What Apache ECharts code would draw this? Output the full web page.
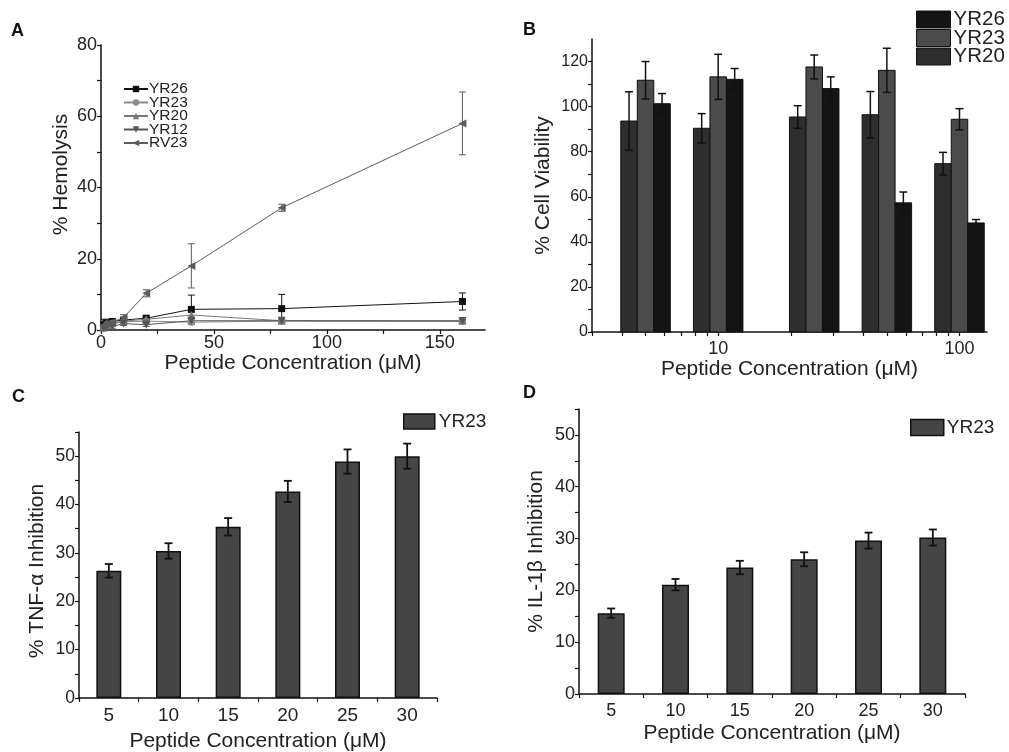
<!DOCTYPE html>
<html>
<head>
<meta charset="utf-8">
<script src="https://cdn.jsdelivr.net/npm/echarts@6/dist/echarts.min.js"></script>
<style>
  html, body { margin: 0; background: #fff; }
  #chart { width: 1009px; height: 752px; }
</style>
</head>
<body>
<div id="chart"></div>
<script>
// A: hemolysis
var hemoConc = [1.25, 2.5, 5, 10, 20, 40, 80, 160];
var hemoYR26 = [1.5, 2.0, 2.4, 2.8, 3.3, 5.8, 6.0, 8.0];
var hemoYR26Err = [1.5, 1.0, 0.8, 0.6, 0.8, 4.0, 4.0, 2.4];
var hemoYR23 = [0.8, 1.5, 1.8, 2.3, 2.5, 2.2, 2.5, 2.5];
var hemoYR23Err = [0.8, 0.6, 0.5, 0.5, 0.5, 0.6, 0.4, 0.4];
var hemoYR20 = [1.0, 1.8, 2.0, 2.5, 3.0, 4.2, 2.6, 2.6];
var hemoYR20Err = [0.8, 0.6, 0.5, 0.5, 0.5, 0.8, 0.4, 0.4];
var hemoYR12 = [0.5, 0.8, 1.0, 1.8, 1.5, 2.6, 2.6, 2.5];
var hemoYR12Err = [0.5, 0.5, 0.5, 0.5, 0.5, 0.5, 0.4, 0.4];
var hemoRV23 = [1.2, 1.8, 2.2, 3.5, 10.3, 18.0, 34.3, 58.0];
var hemoRV23Err = [1.5, 1.0, 0.8, 0.8, 1.0, 6.2, 1.0, 8.8];

// B: cell viability (log concentration)
var viabConc = [5, 10, 25, 50, 100];
var viabYR26 = [93.6, 90.4, 95.4, 96.4, 74.7];
var viabYR26Err = [13.0, 6.5, 5.0, 10.3, 5.0];
var viabYR23 = [111.7, 113.2, 117.6, 116.1, 94.4];
var viabYR23Err = [8.3, 10.0, 5.3, 9.8, 4.7];
var viabYR20 = [101.3, 112.1, 108.0, 57.3, 48.4];
var viabYR20Err = [4.5, 4.8, 5.2, 4.8, 1.5];

// C, D: cytokine inhibition
var cytoConc = ['5', '10', '15', '20', '25', '30'];
var tnfYR23 = [26.3, 30.4, 35.4, 42.7, 48.9, 50.0];
var tnfYR23Err = [1.4, 1.6, 1.8, 2.2, 2.5, 2.6];
var il1bYR23 = [15.6, 21.1, 24.4, 26.0, 29.6, 30.2];
var il1bYR23Err = [0.9, 1.1, 1.3, 1.35, 1.55, 1.55];

var FONT = 'Liberation Sans, Arial, sans-serif';
var TXT = '#222';

function zip3(xs, ys, es) {
  return xs.map(function (x, i) { return [x, ys[i], es[i]]; });
}
function catZip(ys, es) {
  return ys.map(function (y, i) { return [i, y, es[i]]; });
}
function stripPanel(name) { return name.split(':')[1]; }

// error bars drawn through the axis scales
function errorBars(offsetPx, capPx, color, lw) {
  return function (params, api) {
    var x = api.value(0), y = api.value(1), e = api.value(2);
    var hi = api.coord([x, y + e]), lo = api.coord([x, y - e]);
    var cx = hi[0] + offsetPx;
    var st = { stroke: color, lineWidth: lw };
    return {
      type: 'group',
      children: [
        { type: 'line', shape: { x1: cx, y1: hi[1], x2: cx, y2: lo[1] }, style: st },
        { type: 'line', shape: { x1: cx - capPx, y1: hi[1], x2: cx + capPx, y2: hi[1] }, style: st },
        { type: 'line', shape: { x1: cx - capPx, y1: lo[1], x2: cx + capPx, y2: lo[1] }, style: st }
      ]
    };
  };
}

// grouped bars on the log axis
function viabBar(offsetPx, widthPx) {
  return function (params, api) {
    var x = api.value(0), y = api.value(1);
    var t = api.coord([x, y]), b = api.coord([x, 0]);
    return {
      type: 'rect',
      shape: { x: t[0] + offsetPx - widthPx / 2, y: t[1], width: widthPx, height: b[1] - t[1] },
      style: { fill: api.visual('color'), stroke: '#111', lineWidth: 1 }
    };
  };
}

var axisLine = { show: true, lineStyle: { color: '#111', width: 1.5 } };
var axisTick = { show: true, length: 4, lineStyle: { color: '#111', width: 1.2 } };
function lbl(size, margin) { return { color: TXT, fontSize: size, fontFamily: FONT, margin: margin }; }
function nameStyle(pad) { return { color: TXT, fontSize: 21, fontFamily: FONT, padding: pad || 0 }; }

function range(a, b, s) { var r = []; for (var v = a; v <= b + 1e-9; v += s) r.push(v); return r; }

var hemoLines = [
  { name: 'A:YR26', y: hemoYR26, e: hemoYR26Err, color: '#111111', symbol: 'rect', rot: 0, size: 7 },
  { name: 'A:YR23', y: hemoYR23, e: hemoYR23Err, color: '#8a8a8a', symbol: 'circle', rot: 0, size: 7 },
  { name: 'A:YR20', y: hemoYR20, e: hemoYR20Err, color: '#777777', symbol: 'triangle', rot: 0, size: 8 },
  { name: 'A:YR12', y: hemoYR12, e: hemoYR12Err, color: '#555555', symbol: 'triangle', rot: 180, size: 8 },
  { name: 'A:RV23', y: hemoRV23, e: hemoRV23Err, color: '#5c5c5c', symbol: 'triangle', rot: 90, size: 8 }
];

var series = [];
hemoLines.forEach(function (s) {
  series.push({
    name: s.name, type: 'line', xAxisIndex: 0, yAxisIndex: 0,
    data: hemoConc.map(function (x, i) { return [x, s.y[i]]; }),
    symbol: s.symbol, symbolRotate: s.rot, symbolSize: s.size,
    lineStyle: { color: s.color, width: 1 },
    itemStyle: { color: s.color },
    z: 3
  });
  series.push({
    type: 'custom', xAxisIndex: 0, yAxisIndex: 0,
    data: zip3(hemoConc, s.y, s.e),
    renderItem: errorBars(0, 3.5, s.color, 1), z: 2, silent: true
  });
});

var viab = [
  { name: 'B:YR26', y: viabYR26, e: viabYR26Err, color: '#2e2e2e', off: -16.5 },
  { name: 'B:YR23', y: viabYR23, e: viabYR23Err, color: '#4b4b4b', off: 0 },
  { name: 'B:YR20', y: viabYR20, e: viabYR20Err, color: '#141414', off: 16.5 }
];
viab.forEach(function (s) {
  series.push({
    name: s.name, type: 'custom', xAxisIndex: 1, yAxisIndex: 1,
    data: viabConc.map(function (x, i) { return [x, s.y[i]]; }),
    renderItem: viabBar(s.off, 16.5), itemStyle: { color: s.color }, z: 2
  });
  series.push({
    type: 'custom', xAxisIndex: 1, yAxisIndex: 1,
    data: zip3(viabConc, s.y, s.e),
    renderItem: errorBars(s.off, 4, '#111', 1.5), z: 3, silent: true
  });
});

[
  { name: 'C:YR23', y: tnfYR23, e: tnfYR23Err, idx: 2, w: 25 },
  { name: 'D:YR23', y: il1bYR23, e: il1bYR23Err, idx: 3, w: 27 }
].forEach(function (s) {
  series.push({
    name: s.name, type: 'bar', xAxisIndex: s.idx, yAxisIndex: s.idx,
    data: s.y, barWidth: s.w,
    itemStyle: { color: '#454545', borderColor: '#111', borderWidth: 1.5 }, z: 2
  });
  series.push({
    type: 'custom', xAxisIndex: s.idx, yAxisIndex: s.idx,
    data: catZip(s.y, s.e),
    renderItem: errorBars(0, 4, '#111', 1.8), z: 3, silent: true
  });
});

var chart = echarts.init(document.getElementById('chart'), null, { renderer: 'canvas' });
chart.setOption({
  backgroundColor: '#fff',
  animation: false,
  textStyle: { fontFamily: FONT },
  grid: [
    { left: 101, top: 45, width: 384, height: 285, outerBoundsMode: 'none' },
    { left: 592, top: 39, width: 395, height: 293, outerBoundsMode: 'none' },
    { left: 79, top: 432, width: 358, height: 266, outerBoundsMode: 'none' },
    { left: 579, top: 409, width: 386, height: 285, outerBoundsMode: 'none' }
  ],
  xAxis: [
    {
      gridIndex: 0, type: 'value', min: 0, max: 170,
      axisLine: axisLine, splitLine: { show: false },
      axisTick: Object.assign({}, axisTick, { customValues: range(0, 150, 25) }),
      axisLabel: Object.assign(lbl(18, 4), { customValues: range(0, 150, 50) }),
      name: 'Peptide Concentration (\u03bcM)', nameLocation: 'middle', nameGap: 21, nameTextStyle: nameStyle()
    },
    {
      gridIndex: 1, type: 'log', min: 3, max: 130, logBase: 10,
      axisLine: axisLine, splitLine: { show: false },
      axisTick: Object.assign({}, axisTick, { customValues: [3, 4, 5, 6, 7, 8, 9, 10, 20, 30, 40, 50, 60, 70, 80, 90, 100] }),
      axisLabel: Object.assign(lbl(18, 8), { customValues: [10, 100] }),
      name: 'Peptide Concentration (\u03bcM)', nameLocation: 'middle', nameGap: 24, nameTextStyle: nameStyle()
    },
    {
      gridIndex: 2, type: 'category', data: cytoConc,
      axisLine: axisLine, axisTick: axisTick,
      axisLabel: lbl(19, 8),
      name: 'Peptide Concentration (\u03bcM)', nameLocation: 'middle', nameGap: 33, nameTextStyle: nameStyle()
    },
    {
      gridIndex: 3, type: 'category', data: cytoConc,
      axisLine: axisLine, axisTick: axisTick,
      axisLabel: lbl(18, 8),
      name: 'Peptide Concentration (\u03bcM)', nameLocation: 'middle', nameGap: 29, nameTextStyle: nameStyle()
    }
  ],
  yAxis: [
    {
      gridIndex: 0, type: 'value', min: 0, max: 80,
      axisLine: axisLine, splitLine: { show: false },
      axisTick: Object.assign({}, axisTick, { customValues: range(0, 80, 10) }),
      axisLabel: Object.assign(lbl(18, 4), { customValues: range(0, 80, 20) }),
      name: '% Hemolysis', nameLocation: 'middle', nameGap: 29, nameTextStyle: nameStyle([0, 0, 0, 26])
    },
    {
      gridIndex: 1, type: 'value', min: 0, max: 130,
      axisLine: axisLine, splitLine: { show: false },
      axisTick: Object.assign({}, axisTick, { customValues: range(0, 120, 10) }),
      axisLabel: Object.assign(lbl(16, 4), { customValues: range(0, 120, 20) }),
      name: '% Cell Viability', nameLocation: 'middle', nameGap: 38, nameTextStyle: nameStyle()
    },
    {
      gridIndex: 2, type: 'value', min: 0, max: 55,
      axisLine: axisLine, splitLine: { show: false },
      axisTick: Object.assign({}, axisTick, { customValues: range(0, 55, 5) }),
      axisLabel: Object.assign(lbl(17.5, 4), { customValues: range(0, 50, 10) }),
      name: '% TNF-\u03b1 Inhibition', nameLocation: 'middle', nameGap: 31, nameTextStyle: nameStyle([0, 12, 0, 0])
    },
    {
      gridIndex: 3, type: 'value', min: 0, max: 55,
      axisLine: axisLine, splitLine: { show: false },
      axisTick: Object.assign({}, axisTick, { customValues: range(0, 55, 5) }),
      axisLabel: Object.assign(lbl(18, 4), { customValues: range(0, 50, 10) }),
      name: '% IL-1\u03b2 Inhibition', nameLocation: 'middle', nameGap: 32, nameTextStyle: nameStyle()
    }
  ],
  legend: [
    {
      orient: 'vertical', left: 123, top: 81, padding: 0, itemGap: -2.5, itemWidth: 24, itemHeight: 8,
      data: hemoLines.map(function (s) { return s.name; }),
      formatter: stripPanel,
      textStyle: { color: TXT, fontSize: 15.5, lineHeight: 13.6, fontFamily: FONT, padding: [0, 0, 0, -4] }
    },
    {
      orient: 'vertical', left: 916, top: 9, padding: 0, itemGap: -2.5, itemWidth: 34, itemHeight: 17, icon: 'rect',
      data: [
        { name: 'B:YR26', itemStyle: { color: '#141414', borderColor: '#111', borderWidth: 1 } },
        { name: 'B:YR23', itemStyle: { color: '#4b4b4b', borderColor: '#111', borderWidth: 1 } },
        { name: 'B:YR20', itemStyle: { color: '#2e2e2e', borderColor: '#111', borderWidth: 1 } }
      ],
      formatter: stripPanel,
      textStyle: { color: TXT, fontSize: 20.5, lineHeight: 17, fontFamily: FONT, padding: [0, 0, 0, -2] }
    },
    {
      left: 403, top: 412, padding: 0, itemWidth: 31, itemHeight: 15, icon: 'rect',
      data: ['C:YR23'], formatter: stripPanel,
      itemStyle: { borderColor: '#111', borderWidth: 1.5 },
      textStyle: { color: TXT, fontSize: 19, fontFamily: FONT, padding: [0, 0, 0, -1] }
    },
    {
      left: 910, top: 418, padding: 0, itemWidth: 33, itemHeight: 16, icon: 'rect',
      data: ['D:YR23'], formatter: stripPanel,
      itemStyle: { borderColor: '#111', borderWidth: 1.5 },
      textStyle: { color: TXT, fontSize: 19, fontFamily: FONT, padding: [0, 0, 0, -2] }
    }
  ],
  graphic: [
    { type: 'text', left: 11, top: 22, style: { text: 'A', font: 'bold 18px ' + FONT, fill: '#111' } },
    { type: 'text', left: 523, top: 21, style: { text: 'B', font: 'bold 18px ' + FONT, fill: '#111' } },
    { type: 'text', left: 12, top: 388, style: { text: 'C', font: 'bold 18px ' + FONT, fill: '#111' } },
    { type: 'text', left: 523, top: 384, style: { text: 'D', font: 'bold 18px ' + FONT, fill: '#111' } }
  ],
  series: series
});
</script>
</body>
</html>
